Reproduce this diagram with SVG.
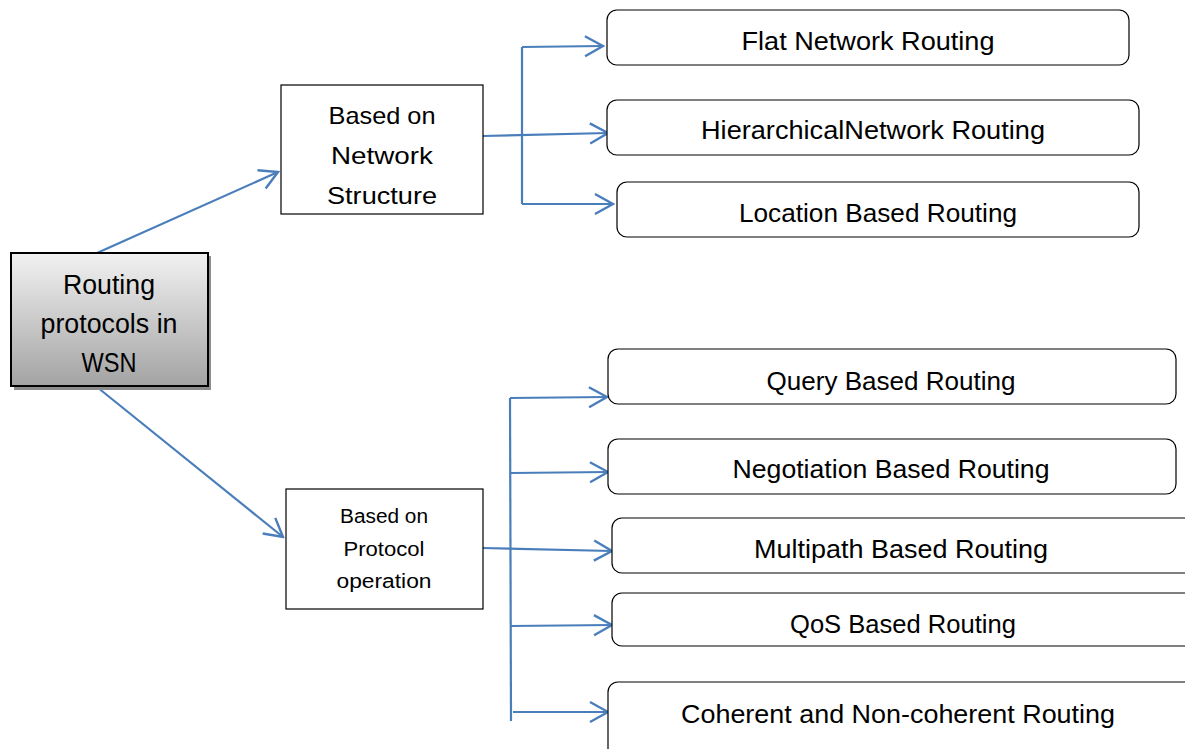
<svg xmlns="http://www.w3.org/2000/svg" width="1185" height="749" viewBox="0 0 1185 749">
<style>
.t{font-family:"Liberation Sans",Arial,sans-serif;fill:#000;text-anchor:middle}
.box{fill:#fff;stroke:#000;stroke-width:1.2}
.rbox{fill:#fff;stroke:#000;stroke-width:1.2}
.c{fill:none;stroke:#4a7ebb;stroke-width:2.2}
</style>
<defs>
<linearGradient id="g" x1="0" y1="0" x2="0" y2="1">
<stop offset="0" stop-color="#f2f2f2"/>
<stop offset="1" stop-color="#a3a3a3"/>
</linearGradient>
<marker id="a" markerUnits="userSpaceOnUse" viewBox="-20 -12 22 24" refX="0" refY="0" markerWidth="22" markerHeight="24" orient="auto">
<path d="M-18,-10 L0,0 L-18,10" fill="none" stroke="#4a7ebb" stroke-width="2.4"/>
</marker>
</defs>
<rect width="1185" height="749" fill="#fff"/>
<g id="connectors">
<path class="c" d="M97,253 L278,172" marker-end="url(#a)"/>
<path class="c" d="M97,387 L283,537" marker-end="url(#a)"/>
<path class="c" d="M522,47 L522,204"/>
<path class="c" d="M522,47 L603,46" marker-end="url(#a)"/>
<path class="c" d="M483,136 L608,133" marker-end="url(#a)"/>
<path class="c" d="M522,204 L613,204" marker-end="url(#a)"/>
<path class="c" d="M510,398 L511,721"/>
<path class="c" d="M510,398 L607,397" marker-end="url(#a)"/>
<path class="c" d="M511,473 L608,472" marker-end="url(#a)"/>
<path class="c" d="M483,548 L612,551" marker-end="url(#a)"/>
<path class="c" d="M510,626 L612,625" marker-end="url(#a)"/>
<path class="c" d="M513,712 L608,712" marker-end="url(#a)"/>
</g>
<g id="root">
<rect x="14" y="256" width="197" height="134" fill="#8c8c8c"/>
<rect x="11" y="253" width="197" height="133" fill="url(#g)" stroke="#000" stroke-width="2"/>
<text class="t" x="109" y="294" font-size="27" textLength="92" lengthAdjust="spacingAndGlyphs">Routing</text>
<text class="t" x="109" y="333" font-size="27" textLength="137" lengthAdjust="spacingAndGlyphs">protocols in</text>
<text class="t" x="109" y="372" font-size="27" textLength="55" lengthAdjust="spacingAndGlyphs">WSN</text>
</g>
<g id="network-structure">
<rect class="box" x="281" y="85" width="202" height="129"/>
<text class="t" x="382" y="124" font-size="24" textLength="107" lengthAdjust="spacingAndGlyphs">Based on</text>
<text class="t" x="382" y="164" font-size="24" textLength="102" lengthAdjust="spacingAndGlyphs">Network</text>
<text class="t" x="382" y="204" font-size="24" textLength="110" lengthAdjust="spacingAndGlyphs">Structure</text>
</g>
<g id="protocol-operation">
<rect class="box" x="286" y="489" width="197" height="120"/>
<text class="t" x="384" y="523" font-size="20" textLength="88" lengthAdjust="spacingAndGlyphs">Based on</text>
<text class="t" x="384" y="556" font-size="20" textLength="81" lengthAdjust="spacingAndGlyphs">Protocol</text>
<text class="t" x="384" y="588" font-size="20" textLength="95" lengthAdjust="spacingAndGlyphs">operation</text>
</g>
<g id="flat">
<rect class="rbox" x="607" y="10" width="522" height="55" rx="10"/>
<text class="t" x="868" y="50" font-size="25" textLength="253" lengthAdjust="spacingAndGlyphs">Flat Network Routing</text>
</g>
<g id="hierarchical">
<rect class="rbox" x="607" y="100" width="532" height="55" rx="10"/>
<text class="t" x="873" y="139" font-size="25" textLength="344" lengthAdjust="spacingAndGlyphs">HierarchicalNetwork Routing</text>
</g>
<g id="location">
<rect class="rbox" x="617" y="182" width="522" height="55" rx="10"/>
<text class="t" x="878" y="222" font-size="25" textLength="278" lengthAdjust="spacingAndGlyphs">Location Based Routing</text>
</g>
<g id="query">
<rect class="rbox" x="608" y="349" width="568" height="55" rx="10"/>
<text class="t" x="891" y="390" font-size="25" textLength="249" lengthAdjust="spacingAndGlyphs">Query Based Routing</text>
</g>
<g id="negotiation">
<rect class="rbox" x="608" y="439" width="568" height="55" rx="10"/>
<text class="t" x="891" y="478" font-size="25" textLength="317" lengthAdjust="spacingAndGlyphs">Negotiation Based Routing</text>
</g>
<g id="multipath">
<rect class="rbox" x="612" y="518" width="590" height="55" rx="10"/>
<text class="t" x="901" y="558" font-size="25" textLength="294" lengthAdjust="spacingAndGlyphs">Multipath Based Routing</text>
</g>
<g id="qos">
<rect class="rbox" x="612" y="593" width="590" height="53" rx="10"/>
<text class="t" x="903" y="633" font-size="25" textLength="226" lengthAdjust="spacingAndGlyphs">QoS Based Routing</text>
</g>
<g id="coherent">
<rect class="rbox" x="608" y="682" width="594" height="80" rx="10"/>
<text class="t" x="898" y="723" font-size="25" textLength="434" lengthAdjust="spacingAndGlyphs">Coherent and Non-coherent Routing</text>
</g>
</svg>
